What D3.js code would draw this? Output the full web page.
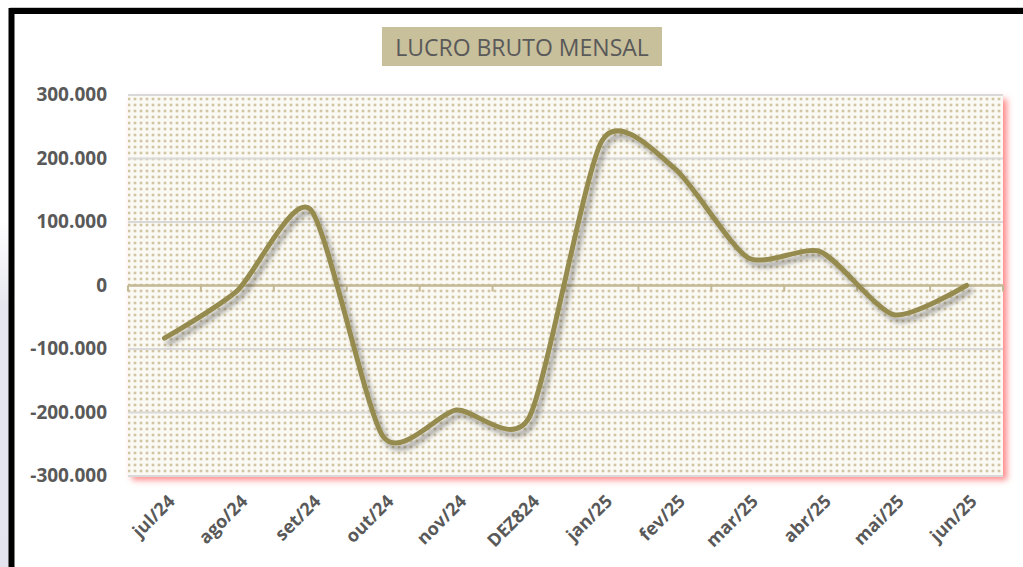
<!DOCTYPE html>
<html>
<head>
<meta charset="utf-8">
<script src="https://cdn.jsdelivr.net/npm/d3@7"></script>
<style>
  html, body { margin: 0; padding: 0; background: #fff; }
  svg { display: block; }
</style>
</head>
<body>
<div id="chart"></div>
<script>
// data
const months = ["jul/24", "ago/24", "set/24", "out/24", "nov/24", "DEZ824", "jan/25", "fev/25", "mar/25", "abr/25", "mai/25", "jun/25"]
const lucro = [-83000, -8000, 120000, -238000, -196000, -208000, 228000, 184000, 44000, 53000, -46000, 0]
const yTicks = [-300000, -200000, -100000, 0, 100000, 200000, 300000]
const title = "LUCRO BRUTO MENSAL"

// constants
const width = 1023
const height = 567
const plot = {left: 128, right: 1003, top: 95, bottom: 476}

const ptBR = d3.formatLocale({decimal: ",", thousands: ".", grouping: [3], currency: ["R$", ""], minus: "-"})
const fmt = ptBR.format(",")

const svg = d3.select("#chart").append("svg")
              .attr("width", width)
              .attr("height", height)
              .attr("viewBox", [0, 0, width, height])

const defs = svg.append("defs")

// dotted fill of the plot area
const pat = defs.append("pattern")
                .attr("id", "dots")
                .attr("width", 6)
                .attr("height", 6)
                .attr("patternUnits", "userSpaceOnUse")
pat.append("rect").attr("width", 6).attr("height", 6).attr("fill", "#fbf9f3")
pat.append("circle").attr("cx", 3).attr("cy", 3).attr("r", 1.8).attr("fill", "#e6dfc9")
pat.append("circle").attr("cx", 3).attr("cy", 3).attr("r", 1.1).attr("fill", "#cbc09c")

// pink glow under the plot area
const glow = defs.append("filter").attr("id", "glow")
                 .attr("x", "-5%").attr("y", "-5%").attr("width", "110%").attr("height", "115%")
glow.append("feDropShadow")
    .attr("dx", 4).attr("dy", 4).attr("stdDeviation", 3)
    .attr("flood-color", "#ff6b6b").attr("flood-opacity", 0.8)

// gray shadow of the line
const shadow = defs.append("filter").attr("id", "shadow")
                   .attr("x", "-5%").attr("y", "-10%").attr("width", "110%").attr("height", "125%")
shadow.append("feDropShadow")
      .attr("dx", 4).attr("dy", 5).attr("stdDeviation", 2.5)
      .attr("flood-color", "#000").attr("flood-opacity", 0.35)

// left strip and frame
const lav = defs.append("linearGradient").attr("id", "lav").attr("x1", 0).attr("y1", 0).attr("x2", 0).attr("y2", 1)
lav.append("stop").attr("offset", "0%").attr("stop-color", "#fff")
lav.append("stop").attr("offset", "25%").attr("stop-color", "#e6e6f0")
lav.append("stop").attr("offset", "100%").attr("stop-color", "#e4e4ee")
svg.append("rect").attr("x", 0).attr("y", 220).attr("width", 10).attr("height", height - 220).attr("fill", "url(#lav)")
svg.append("line").attr("x1", 10).attr("x2", width).attr("y1", 7.5).attr("y2", 7.5)
   .attr("stroke", "#c8c8c8").attr("stroke-width", 1)
svg.append("path")
   .attr("d", `M11.5,${height} V11 H${width}`)
   .attr("fill", "none").attr("stroke", "#000").attr("stroke-width", 6)

// scales
const xScale = d3.scaleBand()
                 .domain(months)
                 .range([plot.left, plot.right])
const yScale = d3.scaleLinear()
                 .domain([-300000, 300000])
                 .range([plot.bottom, plot.top])

// plot background
svg.append("rect")
   .attr("x", plot.left).attr("y", plot.top)
   .attr("width", plot.right - plot.left).attr("height", plot.bottom - plot.top)
   .attr("fill", "url(#dots)")
   .attr("filter", "url(#glow)")

// gridlines
svg.append("g")
   .selectAll("line")
   .data(yTicks.filter(d => d !== 0))
   .join("line")
   .attr("x1", plot.left).attr("x2", plot.right)
   .attr("y1", d => yScale(d)).attr("y2", d => yScale(d))
   .attr("stroke", "#d9d9d9").attr("stroke-width", 2)

// y axis labels
const yAxis = d3.axisLeft(yScale).tickValues(yTicks).tickFormat(fmt).tickSize(0).tickPadding(0)
svg.append("g")
   .attr("transform", `translate(107,0)`)
   .call(yAxis)
   .call(g => g.select(".domain").remove())
   .selectAll("text")
   .attr("fill", "#595959")
   .attr("dy", "0.3em")
   .style("font-family", "'Open Sans', sans-serif")
   .style("font-size", "19px")
   .style("font-weight", "bold")

// zero axis with ticks on the category boundaries
const zeroY = yScale(0)
svg.append("line")
   .attr("x1", plot.left).attr("x2", plot.right)
   .attr("y1", zeroY).attr("y2", zeroY)
   .attr("stroke", "#c4b995").attr("stroke-width", 2.5)
svg.append("g")
   .selectAll("line")
   .data(months.concat(["end"]))
   .join("line")
   .attr("x1", (d, i) => plot.left + i * xScale.bandwidth())
   .attr("x2", (d, i) => plot.left + i * xScale.bandwidth())
   .attr("y1", zeroY).attr("y2", zeroY + 6)
   .attr("stroke", "#c4b995").attr("stroke-width", 2)

// x labels, rotated
svg.append("g")
   .selectAll("text")
   .data(months)
   .join("text")
   .attr("transform", d => `translate(${xScale(d) + xScale.bandwidth() / 2 + 7},${plot.bottom + 22}) rotate(-45)`)
   .attr("text-anchor", "end")
   .attr("dy", "0.35em")
   .attr("fill", "#595959")
   .style("font-family", "'Open Sans', sans-serif")
   .style("font-size", "18px")
   .style("font-weight", "bold")
   .text(d => d)

// line
const line = d3.line()
               .x((d, i) => xScale(months[i]) + xScale.bandwidth() / 2)
               .y(d => yScale(d))
               .curve(d3.curveCardinal.tension(0.3))
svg.append("path")
   .datum(lucro)
   .attr("d", line)
   .attr("fill", "none")
   .attr("stroke", "#968b4f")
   .attr("stroke-width", 5)
   .attr("stroke-linecap", "round")
   .attr("stroke-linejoin", "round")
   .attr("filter", "url(#shadow)")

// title
svg.append("rect")
   .attr("x", 382).attr("y", 27).attr("width", 280).attr("height", 39)
   .attr("fill", "#c8bf9b")
svg.append("text")
   .attr("x", 522).attr("y", 56)
   .attr("text-anchor", "middle")
   .attr("fill", "#595959")
   .style("font-family", "'Open Sans', sans-serif")
   .style("font-size", "23px")
   .text(title)
</script>
</body>
</html>
